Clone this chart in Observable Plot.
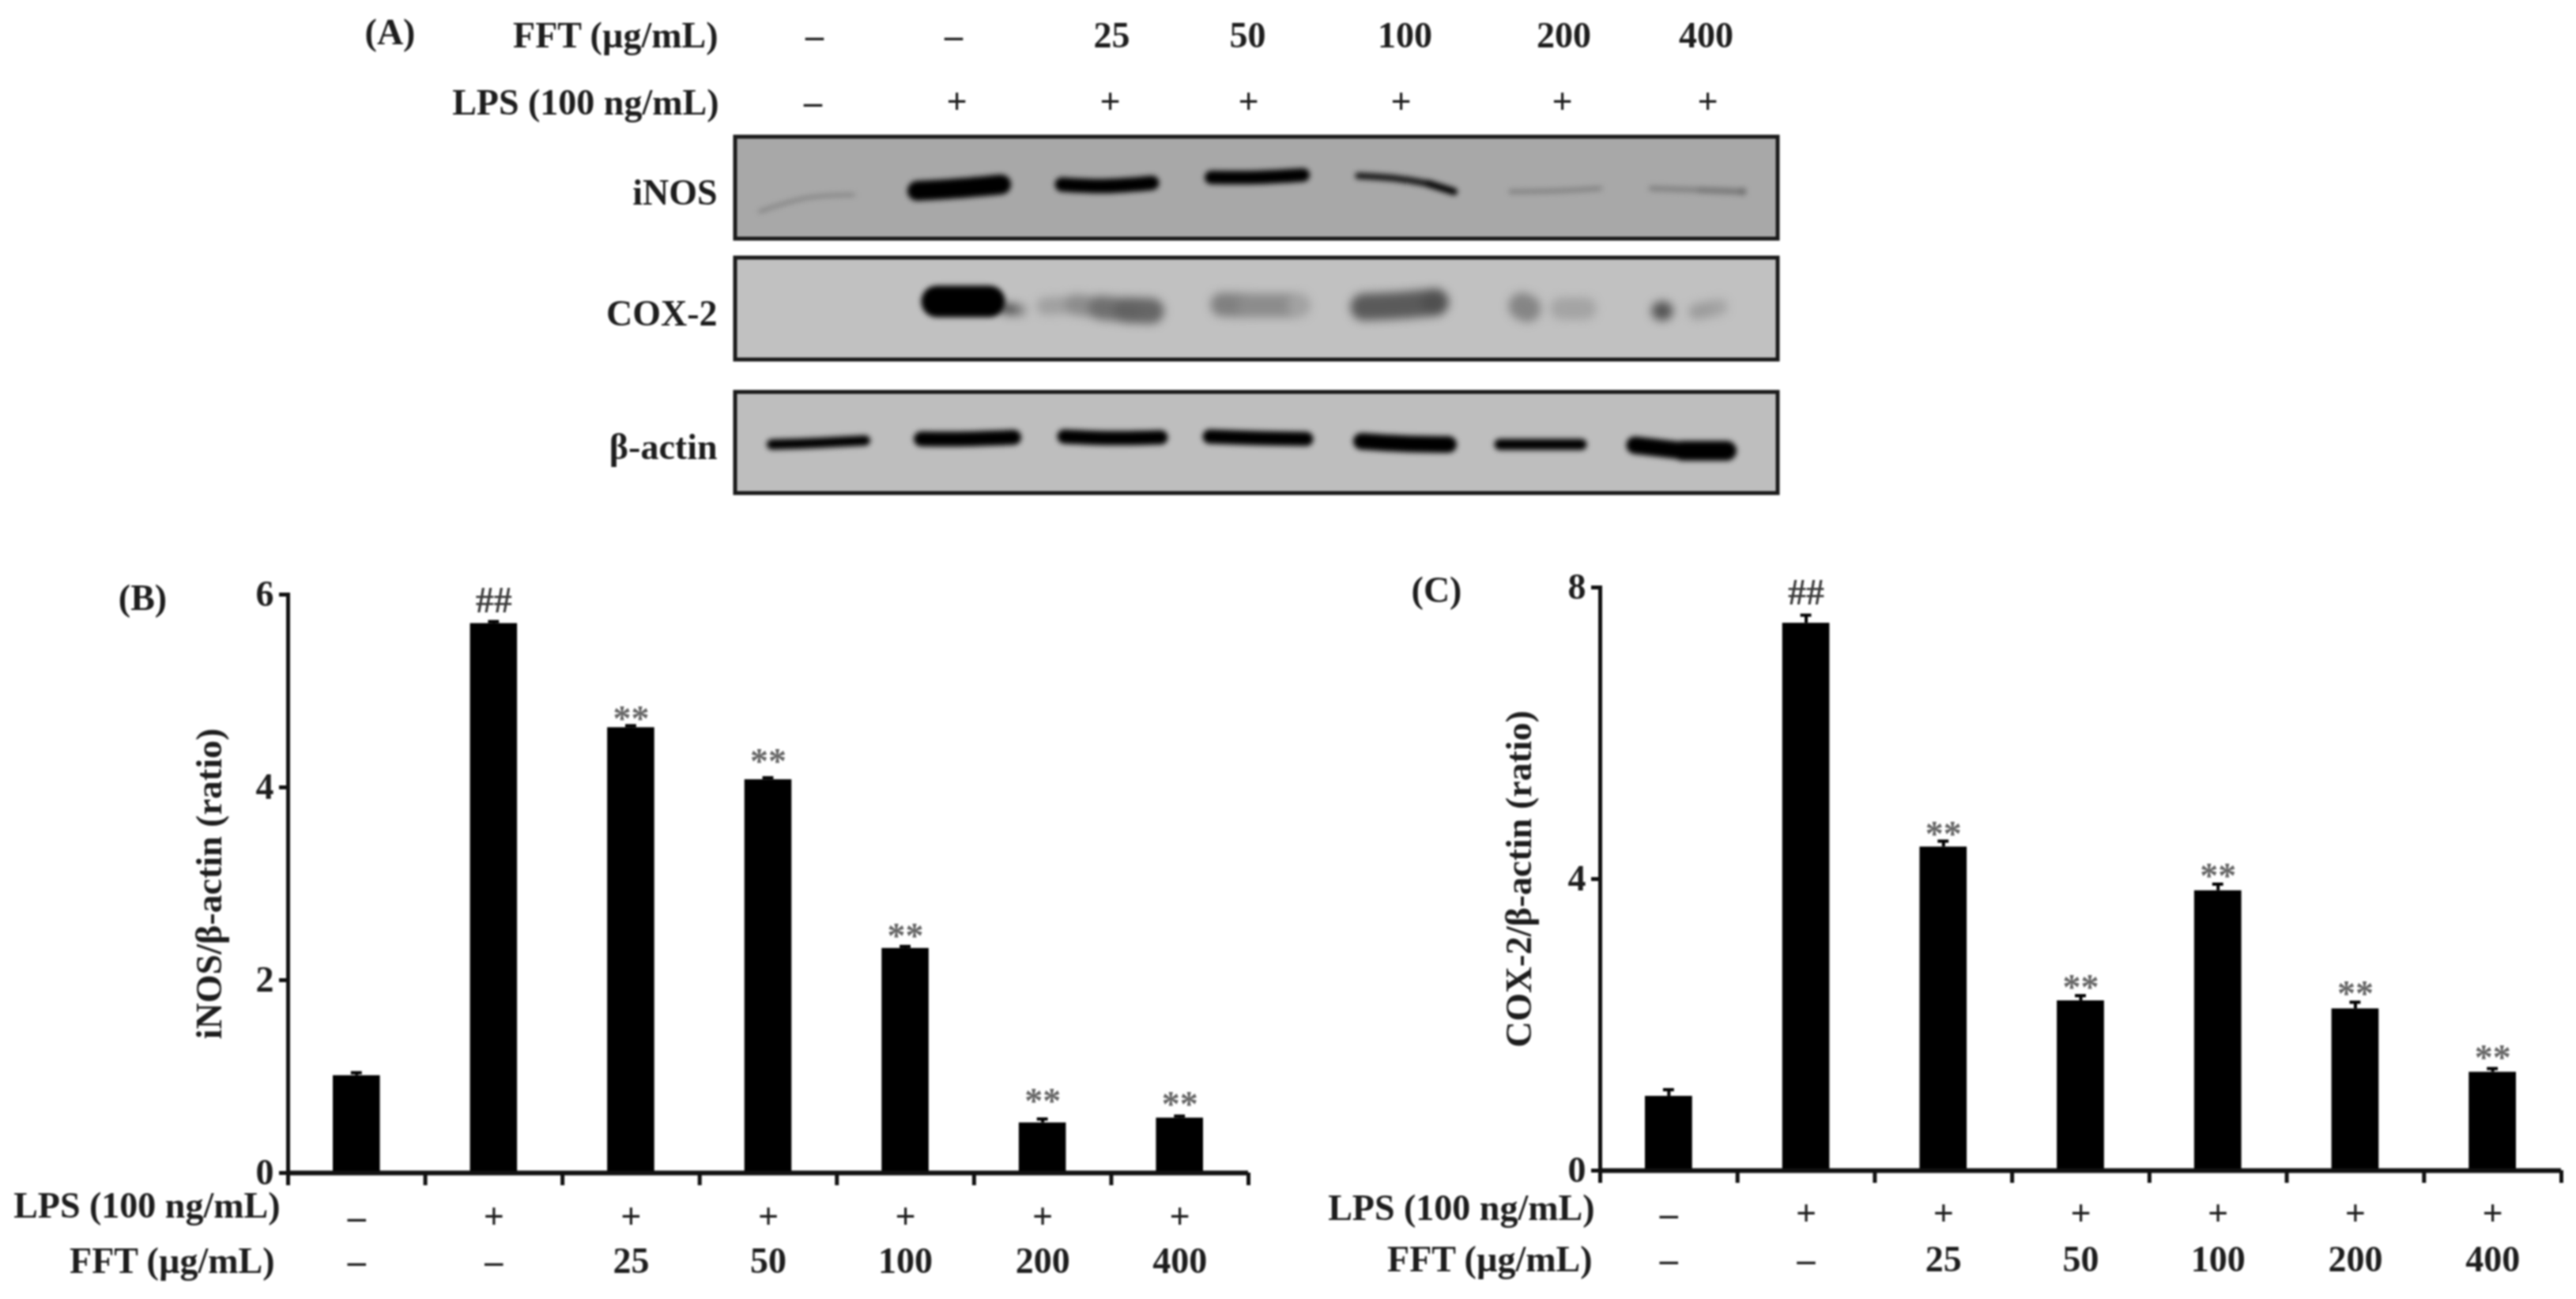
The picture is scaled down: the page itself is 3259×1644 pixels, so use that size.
<!DOCTYPE html>
<html>
<head>
<meta charset="utf-8">
<script src="https://cdn.jsdelivr.net/npm/d3@7"></script>
<script src="https://cdn.jsdelivr.net/npm/@observablehq/plot@0.6"></script>
<style>
html,body{margin:0;padding:0;background:#fff;overflow:hidden}
#page{position:relative;width:3259px;height:1644px;background:#fff}
</style>
</head>
<body>
<div id="page"></div>
<script>
// ---------- data ----------
const lpsRow = ["–","+","+","+","+","+","+"];
const fftRow = ["–","–","25","50","100","200","400"];
const inosValues  = [1.01,5.70,4.62,4.08,2.33,0.52,0.57];
const inosErrTops = [1.04,5.72,4.64,4.10,2.35,0.56,0.59];
const inosMarks   = ["","##","**","**","**","**","**"];
const inosMarkAt  = [0,5.94,4.76,4.31,2.50,0.785,0.76];
const coxValues   = [1.02,7.51,4.44,2.33,3.84,2.22,1.35];
const coxErrTops  = [1.11,7.62,4.52,2.40,3.93,2.31,1.40];
const coxMarks    = ["","##","**","**","**","**","**"];
const coxMarkAt   = [0,7.93,4.68,2.575,4.10,2.48,1.61];
const inosTicks = [0,2,4,6];
const coxTicks  = [0,4,8];
const lpsLabel = "LPS (100 ng/mL)";
const fftLabel = "FFT (µg/mL)";

// Panel A: film, in the picture's own units
const blotNames = ["iNOS","COX-2","β-actin"];
const blotTops    = [173,326,496];
const blotBottoms = [302,455,624];
const blotFills   = ["#a8a8a8","#c1c1c1","#bebebe"];
const fftLaneX = [1030,1206,1406,1578,1777,1978,2158];
const lpsLaneX = [1028,1210,1404,1579,1772,1976,2160];
// [band, x, y, stroke, width]
const sharpBands = [
 ["i1",961,267,"#7f7f7f",4],["i1",1020,250,"#7f7f7f",4],["i1",1080,246,"#8f8f8f",4],
 ["i2",1160,241,"#000",25],["i2",1210,238,"#000",25],["i2",1266,233,"#000",25],
 ["i3",1343,233,"#000",18],["i3",1397,235,"#000",18],["i3",1457,231,"#000",18],
 ["i4",1532,224,"#000",17],["i4",1590,224,"#000",17],["i4",1648,221,"#000",17],
 ["i5",1718,222,"#111",8],["i5",1763,225,"#111",8],["i5",1807,232,"#000",9],["i5",1839,242,"#000",9],
 ["i6",1911,242,"#838383",6],["i6",1970,241,"#838383",6],["i6",2024,238,"#8c8c8c",6],
 ["i7",2089,238,"#838383",7],["i7",2150,240,"#7a7a7a",8],["i7",2204,242,"#727272",10],
 ["a1",976,562,"#000",13],["a1",1035,560,"#000",13],["a1",1094,557,"#000",13],
 ["a2",1165,555,"#000",19],["a2",1224,555,"#000",19],["a2",1282,553,"#000",19],
 ["a3",1346,552,"#000",18],["a3",1405,554,"#000",18],["a3",1468,553,"#000",18],
 ["a4",1530,552,"#000",18],["a4",1590,554,"#000",18],["a4",1652,555,"#000",18],
 ["a5",1722,558,"#000",21],["a5",1775,561,"#000",21],["a5",1832,562,"#000",21],
 ["a6",1897,562,"#000",14],["a6",1950,562,"#000",14],["a6",2000,562,"#000",14],
 ["a7",2068,563,"#000",22],["a7",2128,570,"#000",25],["a7",2184,570,"#000",25],
 ["c2",1185,381,"#000",40],["c2",1251,381,"#000",40]
];
const smearBands = [
 ["c2t",1270,390,"#555",14],["c2t",1290,392,"#8a8a8a",12],
 ["c3a",1322,387,"#a0a0a0",22],["c3a",1360,385,"#8c8c8c",26],["c3a",1392,389,"#6f6f6f",30],
 ["c3b",1392,389,"#6f6f6f",30],["c3b",1425,392,"#626262",32],["c3b",1456,393,"#666666",32],
 ["c4a",1546,385,"#808080",30],["c4a",1580,386,"#8c8c8c",30],
 ["c4b",1580,386,"#8c8c8c",30],["c4b",1642,386,"#a2a2a2",28],
 ["c5",1725,388,"#5a5a5a",34],["c5",1770,386,"#5a5a5a",34],["c5",1815,382,"#505050",34],
 ["c6a",1925,387,"#858585",34],["c6a",1932,390,"#858585",34],
 ["c6b",1975,390,"#a4a4a4",28],["c6b",2005,390,"#a4a4a4",28],
 ["c7a",2101,393,"#555555",24],["c7a",2104,393,"#555555",24],
 ["c7b",2146,394,"#9c9c9c",20],["c7b",2175,388,"#a4a4a4",20]
];

// ---------- helpers ----------
const font = "Liberation Serif";
const ink = "#1d1d1d";
const page = document.getElementById("page");
function place(svg, left, top){
  svg.style.position = "absolute";
  svg.style.left = left + "px";
  svg.style.top = top + "px";
  svg.style.overflow = "visible";
  svg.style.background = "transparent";
  svg.style.filter = "blur(1px)";
  page.appendChild(svg);
}
const toRows = rows => rows.map(([band,x,y,stroke,width]) => ({band,x,y,stroke,width}));
const textOpts = {fontFamily:font, fontWeight:"bold", fontSize:46, fill:ink};

// ---------- Panel A ----------
{
  const frames = blotNames.map((name,i)=>({name,top:blotTops[i],bottom:blotBottoms[i],fill:blotFills[i]}));
  const fftData = fftRow.map((t,i)=>({t,x:fftLaneX[i]}));
  const lpsData = lpsRow.map((t,i)=>({t,x:lpsLaneX[i]}));
  place(Plot.plot({
    width:3259,height:680,margin:0,
    x:{domain:[0,3259],range:[0,3259],axis:null},
    y:{domain:[0,680],range:[0,680],axis:null},
    marks:[
      Plot.rect(frames,{x1:930,x2:2249,y1:"top",y2:"bottom",fill:"fill",stroke:"#1a1a1a",strokeWidth:5}),
      Plot.line(toRows(smearBands),{x:"x",y:"y",z:"band",stroke:"stroke",strokeWidth:"width",strokeLinecap:"round",curve:"catmull-rom",imageFilter:"blur(6px)"}),
      Plot.line(toRows(sharpBands),{x:"x",y:"y",z:"band",stroke:"stroke",strokeWidth:"width",strokeLinecap:"round",curve:"catmull-rom",imageFilter:"blur(3px)"}),
      Plot.text(["(A)"],{x:493,y:41,text:d=>d,...textOpts}),
      Plot.text([fftLabel],{x:908,y:45,text:d=>d,textAnchor:"end",...textOpts}),
      Plot.text([lpsLabel],{x:909,y:130,text:d=>d,textAnchor:"end",...textOpts}),
      Plot.text(fftData,{x:"x",y:45,text:"t",...textOpts}),
      Plot.text(lpsData,{x:"x",y:129,text:"t",...textOpts}),
      Plot.text(frames,{x:907,y:d=>(d.top+d.bottom)/2+6,text:"name",textAnchor:"end",...textOpts})
    ]
  }),0,0);
}

// ---------- Panels B and C ----------
function barPanel({values,errs,marks,markAt,ticks,yMax,yLabel,panel,left,top,w,h,mL,mR,mT,mB,
                   labelX,panelX,panelY,lpsDx,fftDx,lpsY,fftY,plusY}){
  const data = values.map((v,i)=>({i,v,e:errs[i],mark:marks[i],at:markAt[i],lps:lpsRow[i],fft:fftRow[i]}));
  const c = d => d.i + 0.5;
  place(Plot.plot({
    width:w,height:h,marginLeft:mL,marginRight:mR,marginTop:mT,marginBottom:mB,
    x:{domain:[0,7],axis:null},
    y:{domain:[0,yMax],axis:null},
    marks:[
      Plot.rectY(data,{x1:d=>d.i,x2:d=>d.i+1,y:"v",fill:"#000",insetLeft:57,insetRight:57}),
      Plot.ruleX(data,{x:c,y1:"v",y2:"e",stroke:"#000",strokeWidth:4}),
      Plot.ruleY(data,{y:"e",x1:d=>d.i+0.46,x2:d=>d.i+0.54,stroke:"#000",strokeWidth:4}),
      Plot.axisY({ticks,tickSize:11,tickPadding:7,fontSize:46,fontFamily:font,fontWeight:"bold",
                  strokeWidth:5,stroke:"#111",fill:ink,label:null,tickFormat:d=>d}),
      Plot.axisX({ticks:d3.range(8),tickSize:16,strokeWidth:5,stroke:"#111",tickFormat:()=>"",label:null}),
      Plot.frame({anchor:"left",stroke:"#111",strokeWidth:5}),
      Plot.ruleY([0],{stroke:"#111",strokeWidth:6}),
      Plot.text(data.filter(d=>d.mark==="**"),{x:c,y:"at",text:"mark",fontFamily:font,fontWeight:"bold",fontSize:46,fill:"#666",dy:6}),
      Plot.text(data.filter(d=>d.mark==="##"),{x:c,y:"at",text:"mark",fontFamily:font,fontWeight:"bold",fontSize:46,fill:"#3a3a3a",dy:0}),
      Plot.text(data,{x:c,y:0,text:"lps",...textOpts,dy:plusY}),
      Plot.text(data,{x:c,y:0,text:"fft",...textOpts,dy:fftY}),
      Plot.text([lpsLabel],{x:0,y:0,text:d=>d,textAnchor:"end",...textOpts,dx:lpsDx,dy:lpsY}),
      Plot.text([fftLabel],{x:0,y:0,text:d=>d,textAnchor:"end",...textOpts,dx:fftDx,dy:fftY}),
      Plot.text([panel],{x:0,y:yMax,text:d=>d,...textOpts,dx:panelX,dy:panelY}),
      Plot.text([yLabel],{x:0,y:yMax/2,text:d=>d,rotate:-90,...textOpts,dx:labelX,dy:0})
    ]
  }),left,top);
}

barPanel({values:inosValues,errs:inosErrTops,marks:inosMarks,markAt:inosMarkAt,ticks:inosTicks,yMax:6,
  yLabel:"iNOS/β-actin (ratio)",panel:"(B)",
  left:0,top:700,w:1630,h:944,mL:364,mR:51,mT:52,mB:160,
  labelX:-99,panelX:-184,panelY:5,lpsDx:-10,fftDx:-17,lpsY:42,fftY:112,plusY:56});
barPanel({values:coxValues,errs:coxErrTops,marks:coxMarks,markAt:coxMarkAt,ticks:coxTicks,yMax:8,
  yLabel:"COX-2/β-actin (ratio)",panel:"(C)",
  left:1630,top:700,w:1629,h:944,mL:394,mR:19,mT:43,mB:163,
  labelX:-102,panelX:-207,panelY:4,lpsDx:-7,fftDx:-10,lpsY:48,fftY:113,plusY:55});
</script>
</body>
</html>
